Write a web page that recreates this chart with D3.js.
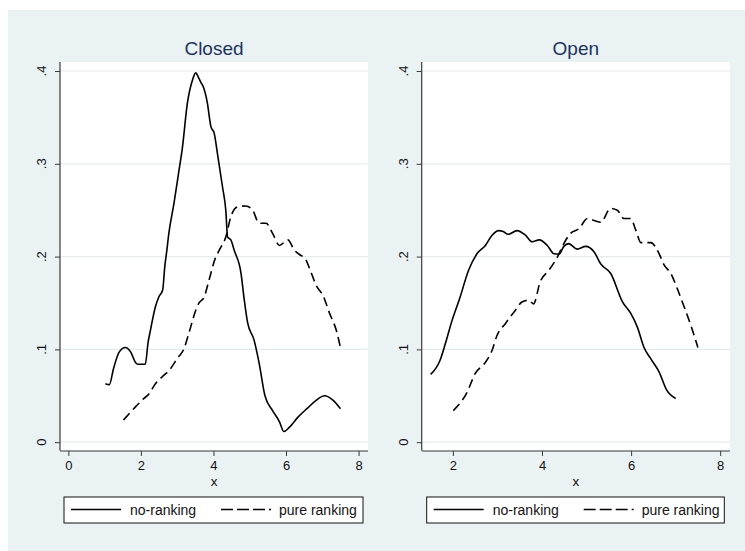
<!DOCTYPE html>
<html><head><meta charset="utf-8">
<script src="https://cdn.jsdelivr.net/npm/d3@7"></script>
<style>
html,body{margin:0;padding:0;background:#fff;}
svg{display:block;font-family:"Liberation Sans",Arial,sans-serif;}
</style></head>
<body>
<svg id="chart" width="745" height="551"></svg>
<script>
// ---- data ----
const panels = ["Closed", "Open"];
const seriesNames = ["no-ranking", "pure ranking"];
const yTicks = [0, 0.1, 0.2, 0.3, 0.4];
const yTickLabels = ["0", ".1", ".2", ".3", ".4"];
const xTicksClosed = [0, 2, 4, 6, 8];
const xTicksOpen = [2, 4, 6, 8];

const closedNoRanking = [[1.02,0.063],[1.13,0.062],[1.25,0.080],[1.4,0.097],[1.57,0.102],[1.72,0.097],[1.85,0.086],[1.92,0.084],[2.12,0.084],[2.2,0.108],[2.26,0.12],[2.4,0.146],[2.5,0.157],[2.6,0.164],[2.66,0.19],[2.71,0.205],[2.77,0.225],[2.91,0.257],[3.05,0.293],[3.14,0.316],[3.28,0.365],[3.42,0.390],[3.51,0.398],[3.6,0.392],[3.65,0.388],[3.72,0.383],[3.83,0.366],[3.93,0.340],[4.02,0.333],[4.11,0.311],[4.25,0.275],[4.34,0.250],[4.39,0.221],[4.48,0.218],[4.57,0.207],[4.76,0.182],[4.85,0.153],[4.94,0.129],[5.12,0.110],[5.26,0.085],[5.42,0.050],[5.63,0.034],[5.82,0.022],[5.94,0.0115],[6.09,0.016],[6.33,0.027],[6.6,0.037],[6.83,0.045],[7.06,0.050],[7.3,0.045],[7.5,0.036]];
const closedPureRanking = [[1.52,0.024],[1.85,0.038],[2.05,0.046],[2.22,0.052],[2.40,0.063],[2.6,0.071],[2.77,0.077],[3.0,0.09],[3.19,0.101],[3.32,0.117],[3.51,0.142],[3.6,0.150],[3.74,0.156],[3.88,0.175],[4.04,0.197],[4.16,0.207],[4.34,0.221],[4.48,0.243],[4.66,0.2535],[4.89,0.2546],[5.08,0.250],[5.26,0.236],[5.45,0.236],[5.63,0.225],[5.82,0.212],[6.05,0.218],[6.23,0.207],[6.42,0.201],[6.51,0.199],[6.7,0.182],[6.83,0.169],[7.02,0.158],[7.2,0.139],[7.39,0.12],[7.5,0.102]];
const openNoRanking = [[1.5,0.073],[1.71,0.088],[1.83,0.106],[1.98,0.131],[2.16,0.156],[2.35,0.185],[2.54,0.203],[2.73,0.212],[2.88,0.223],[3.03,0.228],[3.13,0.227],[3.24,0.224],[3.44,0.228],[3.63,0.223],[3.78,0.216],[3.94,0.218],[4.12,0.212],[4.27,0.203],[4.38,0.2025],[4.49,0.211],[4.6,0.214],[4.79,0.208],[4.98,0.211],[5.17,0.205],[5.32,0.192],[5.54,0.182],[5.81,0.151],[5.99,0.139],[6.14,0.124],[6.29,0.102],[6.44,0.090],[6.63,0.0755],[6.80,0.056],[7.0,0.047]];
const openPureRanking = [[2.01,0.034],[2.32,0.054],[2.5,0.074],[2.73,0.086],[2.88,0.099],[2.99,0.115],[3.18,0.128],[3.4,0.142],[3.55,0.151],[3.7,0.153],[3.81,0.149],[3.96,0.173],[4.15,0.185],[4.34,0.199],[4.49,0.214],[4.64,0.225],[4.83,0.230],[5.02,0.241],[5.17,0.239],[5.32,0.237],[5.54,0.252],[5.69,0.250],[5.84,0.241],[5.99,0.241],[6.11,0.228],[6.22,0.215],[6.44,0.215],[6.63,0.203],[6.74,0.191],[6.89,0.182],[7.04,0.165],[7.19,0.146],[7.34,0.126],[7.5,0.102]];

// ---- layout ----
const svg = d3.select("#chart");
const BG = "#eaf2f3", GRID = "#e3ecee", TITLE = "#1c3361", AXIS = "#3a3a3a";
svg.append("rect").attr("x", 8).attr("y", 10).attr("width", 737).attr("height", 541).attr("fill", BG);

const panelCfg = [
  {title: panels[0], left: 60, right: 368, xDom: [-0.23, 8.26], ticks: xTicksClosed,
   data: [closedNoRanking, closedPureRanking], legend: [64, 363]},
  {title: panels[1], left: 421.7, right: 730, xDom: [1.3, 8.22], ticks: xTicksOpen,
   data: [openNoRanking, openPureRanking], legend: [426.7, 724.3]}
];
const plotTop = 62, plotBottom = 450.5;
const dash = "9,5";

panelCfg.forEach(p => {
  const g = svg.append("g");
  const x = d3.scaleLinear().domain(p.xDom).range([p.left, p.right]);
  const y = d3.scaleLinear().domain([-0.00896, 0.4097]).range([plotBottom, plotTop]);
  const cx = (p.left + p.right) / 2;

  g.append("rect").attr("x", p.left).attr("y", plotTop).attr("width", p.right - p.left)
    .attr("height", plotBottom - plotTop).attr("fill", "#fff");

  // gridlines
  g.selectAll(".grid").data(yTicks).enter().append("line")
    .attr("x1", p.left).attr("x2", p.right)
    .attr("y1", d => y(d)).attr("y2", d => y(d))
    .attr("stroke", GRID).attr("stroke-width", 1.2);

  // y axis
  const ya = g.append("g").attr("transform", `translate(${p.left},0)`)
    .call(d3.axisLeft(y).tickValues(yTicks).tickSize(5).tickPadding(0).tickFormat(""));
  ya.select(".domain").attr("d", `M0,${plotTop}V${plotBottom}`).attr("stroke", AXIS).attr("stroke-width", 1.2);
  ya.selectAll(".tick line").attr("stroke", AXIS).attr("stroke-width", 1);
  g.selectAll(".ylab").data(yTicks).enter().append("text")
    .attr("transform", (d, i) => `translate(${p.left - 14},${y(d)}) rotate(-90)`)
    .attr("text-anchor", "middle").attr("font-size", 13).attr("fill", "#111")
    .text((d, i) => yTickLabels[i]);

  // x axis
  const xa = g.append("g").attr("transform", `translate(0,${plotBottom + 0.5})`)
    .call(d3.axisBottom(x).tickValues(p.ticks).tickSize(5).tickPadding(5).tickFormat(d3.format("d")));
  xa.select(".domain").attr("d", `M${p.left},0H${p.right}`).attr("stroke", AXIS).attr("stroke-width", 1.2);
  xa.selectAll(".tick line").attr("stroke", AXIS).attr("stroke-width", 1);
  xa.selectAll(".tick text").attr("font-size", 13).attr("fill", "#111")
    .attr("font-family", "Liberation Sans, Arial, sans-serif");

  g.append("text").attr("x", cx).attr("y", 486).attr("text-anchor", "middle")
    .attr("font-size", 13.5).attr("fill", "#111").text("x");

  // title
  g.append("text").attr("x", cx).attr("y", 55).attr("text-anchor", "middle")
    .attr("font-size", 19).attr("fill", TITLE).text(p.title);

  // lines
  const line = d3.line().x(d => x(d[0])).y(d => y(d[1])).curve(d3.curveMonotoneX);
  p.data.forEach((s, i) => {
    g.append("path").datum(s).attr("d", line).attr("fill", "none")
      .attr("stroke", "#000").attr("stroke-width", 1.6)
      .attr("stroke-linejoin", "round")
      .attr("stroke-dasharray", i === 1 ? dash : null);
  });

  // legend
  const [lx0, lx1] = p.legend;
  const lg = g.append("g");
  lg.append("rect").attr("x", lx0).attr("y", 497).attr("width", lx1 - lx0).attr("height", 26)
    .attr("fill", "#fff").attr("stroke", "#111").attr("stroke-width", 1);
  const ly = 509.5;
  lg.append("line").attr("x1", lx0 + 7).attr("x2", lx0 + 57).attr("y1", ly).attr("y2", ly)
    .attr("stroke", "#000").attr("stroke-width", 1.6);
  lg.append("text").attr("x", lx0 + 66).attr("y", ly + 5).attr("font-size", 14).attr("fill", "#111").text(seriesNames[0]);
  lg.append("line").attr("x1", lx0 + 157).attr("x2", lx0 + 207).attr("y1", ly).attr("y2", ly)
    .attr("stroke", "#000").attr("stroke-width", 1.6).attr("stroke-dasharray", "12,4");
  lg.append("text").attr("x", lx0 + 215).attr("y", ly + 5).attr("font-size", 14).attr("fill", "#111").text(seriesNames[1]);
});
</script>
</body></html>
